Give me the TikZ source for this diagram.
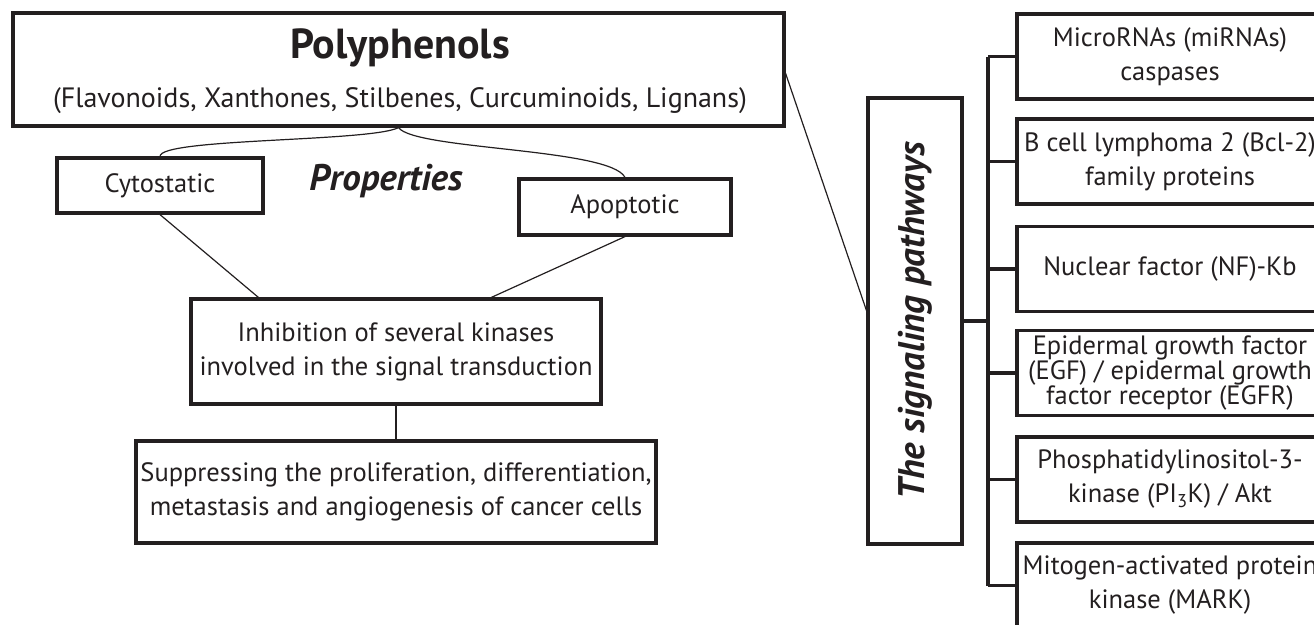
\documentclass[tikz,border=0pt]{standalone}
\usepackage{fontspec}
\setmainfont{PT Sans}
\usetikzlibrary{calc}
\definecolor{ink}{HTML}{231F20}
\begin{document}
\begin{tikzpicture}[x=1pt,y=-1pt,
  box/.style={draw=ink,line width=3.2pt,inner sep=0pt,align=center,text=ink},
  link/.style={draw=ink,line width=1.2pt},
  busline/.style={draw=ink,line width=3.2pt},
  txt/.style={text=ink,inner sep=0pt,align=center},
  body/.style={font=\fontsize{26.5}{34}\selectfont},
  rbox/.style={box,body,minimum width=306,minimum height=85},
]
\useasboundingbox (0,0) rectangle (1314,624);
\clip (0,0) rectangle (1314,624);
% left part
\node[box,minimum width=771,minimum height=113] (poly) at (398.5,69.5) {};
\node[txt,anchor=base,font=\fontsize{42}{44}\selectfont\bfseries] (ptitle) at (400,58) {Polyphenols};
\node[txt,anchor=base,font=\fontsize{28}{32}\selectfont] (psub) at (400,107) {(Flavonoids, Xanthones, Stilbenes, Curcuminoids, Lignans)};
\node[box,body,minimum width=206,minimum height=55] (cyto) at (160,185.5) {Cytostatic};
\node[box,body,minimum width=212,minimum height=56] (apop) at (625,207) {Apoptotic};
\node[txt,anchor=base,font=\fontsize{37}{40}\selectfont\bfseries\itshape] (prop) at (386,190) {Properties};
\node[box,body,minimum width=410,minimum height=105] (inhib) at (396,351.5) {Inhibition of several kinases\\involved in the signal transduction};
\node[box,body,minimum width=520,minimum height=102] (supp) at (396,492) {Suppressing the proliferation, differentiation,\\metastasis and angiogenesis of cancer cells};
\draw[link] (poly.south) .. controls (370,142) and (160,138) .. (cyto.north);
\draw[link] (poly.south) .. controls (415,150) and (610,148) .. (apop.north);
\draw[link] (cyto.south) -- ($(inhib.north west)+(69,0)$);
\draw[link] (apop.south) -- ($(inhib.north west)+(302,0)$);
\draw[link] (inhib.south) -- (supp.north);
% right part
\node[box,minimum width=94,minimum height=446] (sig) at (915,321)
  {\rotatebox{90}{\fontsize{37}{40}\selectfont\bfseries\itshape The signaling pathways}};
\draw[link] ($(poly.north east)+(0,62)$) -- ($(sig.north west)+(0,214)$);
\node[rbox] (b1) at (1170,56.5) {MicroRNAs (miRNAs)\\caspases};
\node[rbox] (b2) at (1170,161.5) {B cell lymphoma 2 (Bcl-2)\\family proteins};
\node[rbox] (b3) at (1170,269) {Nuclear factor (NF)-Kb};
\node[rbox,font=\fontsize{26.5}{25}\selectfont] (b4) at (1170,373) {Epidermal growth factor\\(EGF) / epidermal growth\\factor receptor (EGFR)};
\node[rbox] (b5) at (1170,479.5) {Phosphatidylinositol-3-\\kinase (PI\textsubscript{3}K) / Akt};
\node[rbox] (b6) at (1170,585.5) {Mitogen-activated protein\\kinase (MARK)};
\coordinate (busx) at (988,0);
\draw[busline] (b1.west -| busx) -- (b6.west -| busx);
\foreach \b in {b1,b2,b3,b4,b5,b6} \draw[busline] (\b.west) -- (\b.west -| busx);
\draw[busline] (sig.east) -- (sig.east -| busx);
\end{tikzpicture}
\end{document}
